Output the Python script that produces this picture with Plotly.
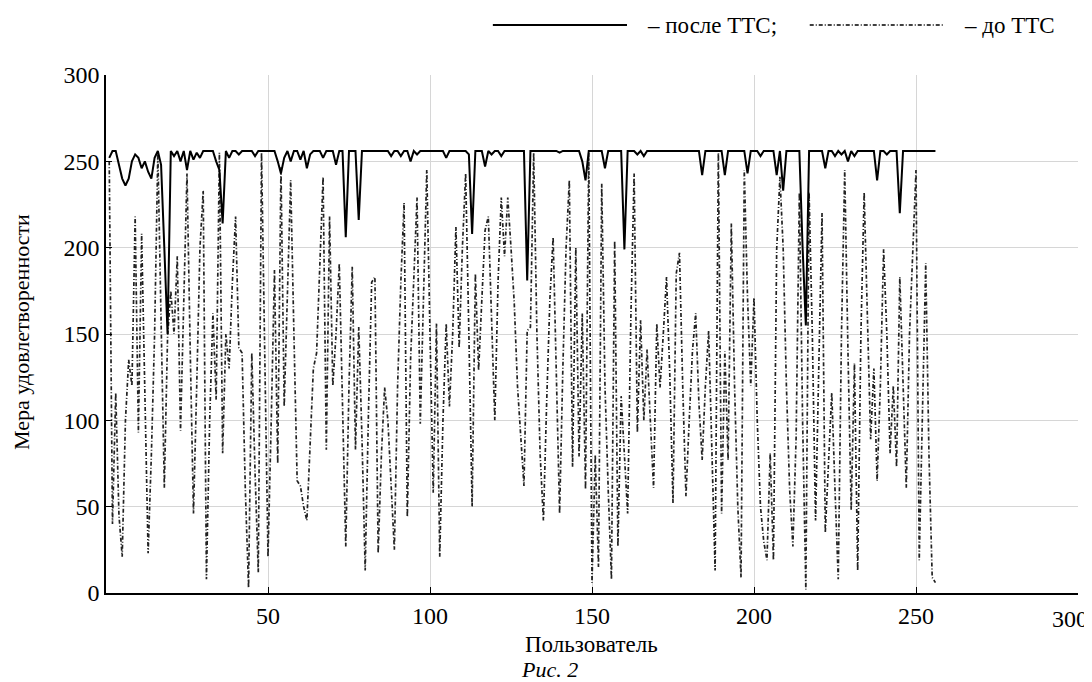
import plotly.graph_objects as go

# Users 1..256
users = list(range(1, 257))

# "до ТТС" - satisfaction before (dash-dot)
before = [
    250, 40, 116, 45, 21, 100, 135, 120, 218, 93, 208, 110, 23, 80, 150, 255,
    160, 61, 148, 175, 150, 195, 94, 170, 243, 140, 46, 120, 200, 233, 8, 100,
    162, 112, 255, 81, 150, 130, 180, 218, 142, 139, 60, 3, 139, 70, 12, 255,
    130, 21, 100, 187, 75, 247, 108, 180, 239, 150, 65, 62, 50, 42, 90, 130,
    139, 190, 241, 83, 218, 120, 150, 191, 100, 27, 120, 189, 83, 154, 90, 13,
    104, 180, 183, 23, 80, 119, 100, 60, 25, 120, 180, 226, 44, 135, 180, 229,
    98, 170, 245, 150, 58, 156, 21, 100, 156, 108, 150, 212, 142, 200, 243, 150,
    50, 185, 129, 170, 210, 218, 160, 100, 180, 229, 195, 229, 200, 168, 120, 90,
    62, 152, 154, 255, 150, 80, 42, 110, 170, 206, 120, 46, 130, 200, 239, 73,
    200, 79, 162, 60, 255, 6, 80, 15, 237, 120, 60, 8, 204, 27, 114, 80,
    46, 160, 243, 93, 158, 100, 141, 100, 61, 156, 119, 150, 183, 127, 52, 185,
    197, 120, 56, 100, 140, 162, 110, 77, 120, 152, 80, 13, 255, 46, 140, 77,
    214, 120, 50, 9, 245, 171, 120, 171, 100, 50, 30, 19, 81, 19, 199, 241,
    200, 120, 60, 27, 90, 232, 100, 2, 232, 150, 42, 140, 220, 35, 80, 116,
    60, 8, 150, 245, 140, 48, 133, 13, 150, 232, 160, 89, 130, 65, 120, 199,
    150, 81, 120, 73, 183, 120, 61, 150, 200, 245, 19, 100, 191, 80, 9, 6,
]

# "после ТТС" - satisfaction after (solid)
after = [
    252, 256, 256, 248, 240, 236, 240, 250, 254, 252, 246, 250, 244, 240, 252, 256,
    248, 200, 150, 256, 253, 256, 250, 256, 245, 256, 251, 255, 252, 256, 256, 256,
    256, 250, 245, 214, 256, 252, 256, 256, 254, 256, 256, 256, 256, 253, 256, 256,
    256, 256, 256, 256, 250, 243, 252, 256, 250, 256, 256, 251, 256, 246, 254, 256,
    256, 256, 252, 256, 256, 256, 248, 256, 256, 206, 256, 256, 256, 216, 256, 256,
    256, 256, 256, 256, 256, 256, 256, 253, 256, 256, 253, 256, 256, 250, 256, 254,
    256, 256, 256, 256, 256, 256, 256, 256, 252, 256, 256, 256, 256, 256, 256, 254,
    208, 256, 256, 256, 247, 256, 254, 256, 256, 253, 256, 256, 256, 256, 256, 256,
    256, 181, 256, 256, 256, 256, 256, 256, 256, 256, 256, 255, 256, 256, 256, 256,
    256, 256, 250, 239, 256, 256, 256, 256, 256, 246, 256, 256, 256, 256, 256, 199,
    256, 256, 256, 254, 256, 253, 256, 256, 256, 256, 256, 256, 256, 256, 256, 256,
    256, 256, 256, 256, 256, 256, 256, 242, 256, 256, 256, 256, 256, 256, 242, 256,
    256, 256, 256, 256, 256, 243, 256, 256, 256, 253, 256, 256, 256, 256, 242, 256,
    233, 256, 256, 256, 256, 256, 200, 155, 256, 256, 256, 256, 256, 246, 256, 256,
    253, 256, 254, 256, 250, 256, 253, 256, 256, 256, 256, 256, 256, 239, 256, 256,
    254, 256, 256, 256, 220, 256, 256, 256, 256, 256, 256, 256, 256, 256, 256, 256,
]

x_ticks = [50, 100, 150, 200, 250, 300]
x_tick_text = ["50", "100", "150", "200", "250", ""]  # last label placed by hand so it fits the page
y_ticks = [0, 50, 100, 150, 200, 250, 300]

FONT = "Liberation Serif"
DASHDOT = "4px,2px,1px,2px"

fig = go.Figure()

fig.add_trace(go.Scatter(x=users, y=before, mode="lines", name="до ТТС",
                         line=dict(color="#222222", width=1.7, dash=DASHDOT)))
fig.add_trace(go.Scatter(x=users, y=after, mode="lines", name="после ТТС",
                         line=dict(color="black", width=2)))

# legend drawn above the plot, like in the paper figure
fig.add_shape(type="line", xref="paper", yref="paper", x0=0.398, x1=0.536, y0=1.0965, y1=1.0965,
              line=dict(color="black", width=2))
fig.add_shape(type="line", xref="paper", yref="paper", x0=0.724, x1=0.861, y0=1.0965, y1=1.0965,
              line=dict(color="black", width=1.7, dash=DASHDOT))
fig.add_annotation(text="– после ТТС;", xref="paper", yref="paper", x=0.5545, y=1.0965,
                   xanchor="left", yanchor="middle", showarrow=False,
                   font=dict(family=FONT, size=23, color="black"))
fig.add_annotation(text="– до ТТС", xref="paper", yref="paper", x=0.881, y=1.0965,
                   xanchor="left", yanchor="middle", showarrow=False,
                   font=dict(family=FONT, size=23, color="black"))

# last x tick label
fig.add_annotation(text=str(x_ticks[-1]), xref="x", yref="paper", x=x_ticks[-1], y=0,
                   xanchor="center", yanchor="top", yshift=-11, xshift=-8, showarrow=False,
                   font=dict(family=FONT, size=24, color="black"))

# axis titles and caption
fig.add_annotation(text="Мера удовлетворенности", xref="paper", yref="paper", x=-0.0864, y=0.504,
                   textangle=-90, xanchor="center", yanchor="middle", showarrow=False,
                   font=dict(family=FONT, size=22, color="black"))
fig.add_annotation(text="Пользователь", xref="paper", yref="paper", x=0.499, y=-0.1,
                   xanchor="center", yanchor="middle", showarrow=False,
                   font=dict(family=FONT, size=23, color="black"))
fig.add_annotation(text="<i>Рис. 2</i>", xref="paper", yref="paper", x=0.456, y=-0.147,
                   xanchor="center", yanchor="middle", showarrow=False,
                   font=dict(family=FONT, size=22, color="black"))

# page body has an 8px margin, so the figure is a bit smaller than the window
fig.update_layout(
    width=1084, height=674,
    margin=dict(l=98, r=14, t=67, b=89),
    paper_bgcolor="white", plot_bgcolor="white",
    showlegend=False,
    font=dict(family=FONT, size=24, color="black"),
)
fig.update_xaxes(range=[0, 300], tickvals=x_ticks, ticktext=x_tick_text, ticks="inside", ticklen=6,
                 tickcolor="black", showline=True, linecolor="black", linewidth=1.5,
                 showgrid=True, gridcolor="#d6d6d6", zeroline=False, automargin=False)
fig.update_yaxes(range=[0, 300], tickvals=y_ticks, ticks="inside", ticklen=6,
                 tickcolor="black", showline=True, linecolor="black", linewidth=1.5,
                 showgrid=True, gridcolor="#d6d6d6", zeroline=False, automargin=False)

fig.write_html("out.html")
